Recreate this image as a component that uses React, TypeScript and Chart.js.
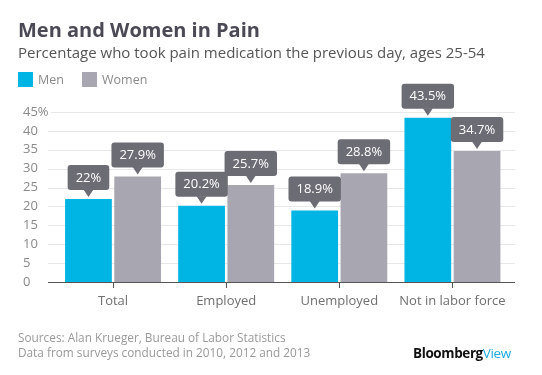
import React, { useEffect, useRef } from 'react';
import { Chart, registerables } from 'chart.js';
Chart.register(...registerables);

const categories = ['Total', 'Employed', 'Unemployed', 'Not in labor force'];
const menValues = [22, 20.2, 18.9, 43.5];
const womenValues = [27.9, 25.7, 28.8, 34.7];
const seriesNames = ['Men', 'Women'];
const yMax = 45;
const yStep = 5;

const FONT = '"Open Sans", sans-serif';
const MEN_COLOR = '#00b4e4';
const WOMEN_COLOR = '#a8a7b1';
const LABEL_BG = '#6c6c75';

const gridPlugin = {
  id: 'extGrid',
  beforeDatasetsDraw(chart: any) {
    const { ctx } = chart;
    const y = chart.scales.y;
    ctx.save();
    ctx.strokeStyle = '#e8e8e8';
    ctx.lineWidth = 1;
    y.ticks.forEach((t: any) => {
      if (t.value <= 0) return;
      const py = Math.round(y.getPixelForValue(t.value)) + 0.5;
      ctx.beginPath();
      ctx.moveTo(t.value === yMax ? 51 : 48, py);
      ctx.lineTo(515, py);
      ctx.stroke();
    });
    ctx.restore();
  },
  afterDatasetsDraw(chart: any) {
    const { ctx } = chart;
    const y = chart.scales.y;
    const py = Math.round(y.getPixelForValue(0)) + 0.5;
    ctx.save();
    ctx.strokeStyle = '#555';
    ctx.lineWidth = 1;
    ctx.beginPath();
    ctx.moveTo(48, py);
    ctx.lineTo(515, py);
    ctx.stroke();
    ctx.restore();
  },
};

const calloutPlugin = {
  id: 'callouts',
  afterDatasetsDraw(chart: any) {
    const { ctx } = chart;
    ctx.save();
    ctx.font = '13px ' + FONT;
    ctx.textAlign = 'center';
    ctx.textBaseline = 'middle';
    chart.data.datasets.forEach((ds: any, di: number) => {
      const meta = chart.getDatasetMeta(di);
      meta.data.forEach((el: any, i: number) => {
        const text = ds.data[i] + '%';
        const w = ctx.measureText(text).width + 16;
        const h = 25;
        const tip = el.y - 2;
        const base = tip - 7;
        const top = base - h;
        const x = el.x;
        ctx.fillStyle = LABEL_BG;
        ctx.beginPath();
        ctx.roundRect(x - w / 2, top, w, h, 3);
        ctx.fill();
        ctx.beginPath();
        ctx.moveTo(x - 5, base - 0.5);
        ctx.lineTo(x + 5, base - 0.5);
        ctx.lineTo(x, tip);
        ctx.closePath();
        ctx.fill();
        ctx.fillStyle = '#ffffff';
        ctx.fillText(text, x, top + h / 2 + 0.5);
      });
    });
    ctx.restore();
  },
};

function ChartCanvas() {
  const ref = useRef<HTMLCanvasElement | null>(null);
  useEffect(() => {
    if (!ref.current) return;
    const chart = new Chart(ref.current, {
      type: 'bar',
      data: {
        labels: categories,
        datasets: [
          { label: seriesNames[0], data: menValues, backgroundColor: MEN_COLOR, borderWidth: 0 },
          { label: seriesNames[1], data: womenValues, backgroundColor: WOMEN_COLOR, borderWidth: 0 },
        ],
      },
      options: {
        animation: false,
        responsive: false,
        maintainAspectRatio: false,
        layout: { padding: { left: 23, right: 33, top: 112, bottom: 63 } },
        datasets: { bar: { categoryPercentage: 0.87, barPercentage: 0.95 } } as any,
        plugins: { legend: { display: false }, tooltip: { enabled: false }, title: { display: false } },
        scales: {
          x: {
            afterFit: (s: any) => { s.height = 30; },
            grid: { display: true, drawOnChartArea: false, drawTicks: true, tickLength: 6, color: '#555', offset: false },
            border: { display: false },
            ticks: { color: '#6f6f6f', font: { family: FONT, size: 13 }, padding: 5, maxRotation: 0 },
          },
          y: {
            min: 0,
            max: yMax,
            afterFit: (s: any) => { s.width = 33.5; },
            grid: { display: false },
            border: { display: false },
            ticks: {
              stepSize: yStep,
              crossAlign: 'far',
              color: '#8a8a8a',
              font: { family: FONT, size: 13 },
              callback: (v: any) => (v === yMax ? v + '%' : String(v)),
            },
          },
        },
      },
      plugins: [gridPlugin, calloutPlugin],
    } as any);
    return () => chart.destroy();
  }, []);
  return <canvas ref={ref} width={542} height={375} style={{ position: 'absolute', left: 0, top: 0, width: 542, height: 375 }} />;
}

export default function App() {
  const abs = (o: any): React.CSSProperties => ({ position: 'absolute', whiteSpace: 'nowrap', fontFamily: FONT, ...o });
  return (
    <div style={{ position: 'fixed', left: 0, top: 0, width: 542, height: 375, background: '#fff', overflow: 'hidden' }}>
      <ChartCanvas />
      <div style={abs({ left: 18, top: 19.5, fontSize: 20, lineHeight: '20px', fontWeight: 700, color: '#4a4a55' })}>
        Men and Women in Pain
      </div>
      <div style={abs({ left: 18, top: 43.5, fontSize: 15, lineHeight: '16px', color: '#555' })}>
        Percentage who took pain medication the previous day, ages 25-54
      </div>
      <div style={abs({ left: 18, top: 72, width: 15, height: 15, background: MEN_COLOR })} />
      <div style={abs({ left: 38, top: 72, fontSize: 12.5, lineHeight: '15px', color: '#8a8a8a' })}>{seriesNames[0]}</div>
      <div style={abs({ left: 82, top: 72, width: 15, height: 15, background: WOMEN_COLOR })} />
      <div style={abs({ left: 102, top: 72, fontSize: 12.5, lineHeight: '15px', color: '#8a8a8a' })}>{seriesNames[1]}</div>
      <div style={abs({ left: 18, top: 329.5, fontSize: 11.8, lineHeight: '15.5px', color: '#999' })}>
        Sources: Alan Krueger, Bureau of Labor Statistics
        <br />
        Data from surveys conducted in 2010, 2012 and 2013
      </div>
      <div style={abs({ left: 413, top: 345.5, fontSize: 13.5, lineHeight: '15px', letterSpacing: '-0.4px' })}>
        <span style={{ fontWeight: 700, color: '#111' }}>Bloomberg</span>
        <span style={{ fontWeight: 400, color: '#1ea9e1' }}>View</span>
      </div>
    </div>
  );
}
